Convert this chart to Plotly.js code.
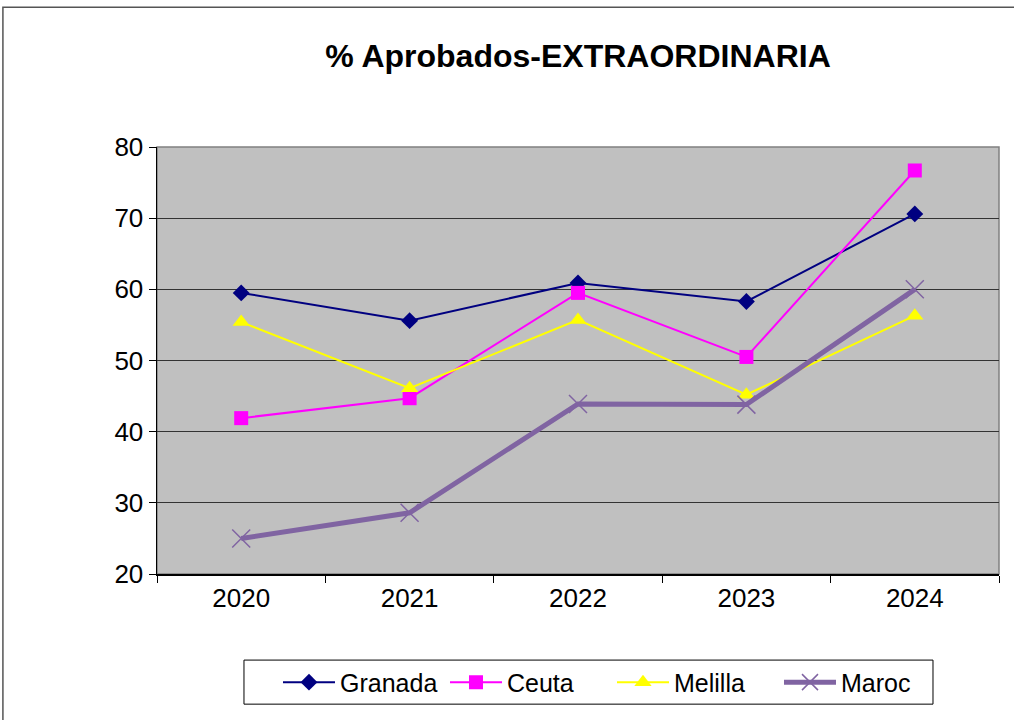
<!DOCTYPE html>
<html>
<head>
<meta charset="utf-8">
<script src="https://cdn.plot.ly/plotly-3.0.1.min.js"></script>
<style>html,body{margin:0;padding:0;background:#fff;}#chart{width:1014px;height:720px;}</style>
</head>
<body>
<div id="chart"></div>
<script>
var years = ["2020", "2021", "2022", "2023", "2024"];
var granada = [59.5, 55.6, 60.9, 58.3, 70.6];
var ceuta = [41.9, 44.7, 59.5, 50.5, 76.7];
var melilla = [55.4, 46.1, 55.7, 45.2, 56.3];
var maroc = [25.0, 28.6, 43.9, 43.8, 60.0];
var yTicks = [20, 30, 40, 50, 60, 70, 80];

var font = "Liberation Sans, Arial, sans-serif";
var traces = [
  {x: years, y: granada, name: "Granada", type: "scatter", mode: "lines+markers",
   line: {color: "#000080", width: 2}, marker: {symbol: "diamond", size: 13, color: "#000080"}},
  {x: years, y: ceuta, name: "Ceuta", type: "scatter", mode: "lines+markers",
   line: {color: "#FF00FF", width: 2}, marker: {symbol: "square", size: 14, color: "#FF00FF"}},
  {x: years, y: melilla, name: "Melilla", type: "scatter", mode: "lines+markers",
   line: {color: "#FFFF00", width: 2}, marker: {symbol: "triangle-up", size: 15, color: "#FFFF00"}},
  {x: years, y: maroc, name: "Maroc", type: "scatter", mode: "lines+markers",
   line: {color: "#8064A2", width: 5}, marker: {symbol: "x-thin-open", size: 18, color: "#8064A2", line: {color: "#8064A2", width: 1.5}}}
];

var layout = {
  width: 1014, height: 720,
  margin: {l: 157, r: 15, t: 147, b: 146},
  paper_bgcolor: "#ffffff",
  plot_bgcolor: "#C0C0C0",
  font: {family: font, size: 26, color: "#000"},
  title: {text: "<b>% Aprobados-EXTRAORDINARIA</b>", font: {family: font, size: 32, color: "#000"},
          x: 0.5, xref: "paper", xanchor: "center", y: 0.923, yanchor: "middle"},
  showlegend: true,
  legend: {orientation: "h", x: 0.1437, xanchor: "left", y: -0.2, yanchor: "top",
           borderwidth: 0, bgcolor: "rgba(0,0,0,0)",
           font: {family: font, size: 25, color: "#000"}, itemwidth: 52,
           entrywidth: 100, entrywidthmode: "pixels", tracegroupgap: 0},
  xaxis: {type: "category", range: [-0.5, 4.5], tickson: "boundaries", ticks: "outside", ticklen: 7,
          tickcolor: "#000", showline: true, linecolor: "#000", linewidth: 1.5, showgrid: false,
          tickfont: {family: font, size: 26, color: "#000"}, zeroline: false},
  yaxis: {range: [20, 80], tickvals: yTicks, ticktext: yTicks.map(String), ticks: "outside", ticklen: 7,
          tickcolor: "#000", showline: true, linecolor: "#000", linewidth: 1.5,
          showgrid: true, gridcolor: "#333", gridwidth: 1.2, zeroline: false,
          tickfont: {family: font, size: 26, color: "#000"}},
  shapes: [
    {type: "rect", xref: "paper", yref: "paper", x0: 0, x1: 1, y0: 0, y1: 1,
     line: {color: "#808080", width: 1.5}, layer: "below"},
    {type: "rect", xref: "paper", yref: "paper", x0: -0.183, x1: 1.03, y0: -0.5, y1: 1.327,
     line: {color: "#555", width: 1.5}, layer: "below"},
    {type: "rect", xref: "paper", yref: "paper", x0: 0.1033, x1: 0.9216, y0: -0.3048, y1: -0.2016,
     line: {color: "#000", width: 1}, fillcolor: "rgba(0,0,0,0)", layer: "above"}
  ]
};

Plotly.newPlot("chart", traces, layout, {displayModeBar: false, staticPlot: true});
</script>
</body>
</html>
